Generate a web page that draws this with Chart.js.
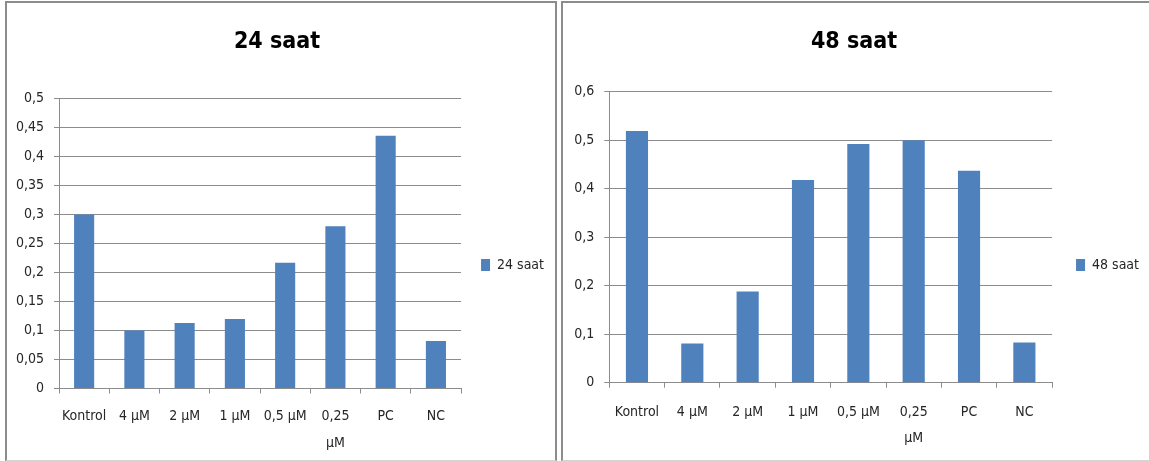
<!DOCTYPE html>
<html>
<head>
<meta charset="utf-8">
<script src="https://cdn.jsdelivr.net/npm/chart.js@4.4.1/dist/chart.umd.min.js"></script>
<style>
  html, body { margin: 0; padding: 0; background: #ffffff; }
  body { width: 1149px; height: 461px; position: relative; overflow: hidden; }
  .frame { position: absolute; border: 2px solid #8c8c8c; border-bottom: 1px solid #d4d4d4; box-sizing: border-box; }
  canvas { position: absolute; top: 0; }
</style>
</head>
<body>
<div class="frame" style="left:5px; top:1px; width:552px; height:460px;"></div>
<div class="frame" style="left:561px; top:1px; width:600px; height:460px;"></div>
<canvas id="c24" width="557" height="461" style="left:0px;"></canvas>
<canvas id="c48" width="590" height="461" style="left:559px;"></canvas>
<script>
// Treatment groups (shared by both panels)
const categories = ['Kontrol', '4 µM', '2 µM', '1 µM', '0,5 µM', ['0,25', 'µM'], 'PC', 'NC'];

// Measured values per time point
const values24 = [0.300, 0.100, 0.113, 0.120, 0.217, 0.280, 0.436, 0.082];
const values48 = [0.519, 0.081, 0.188, 0.418, 0.492, 0.500, 0.437, 0.083];

// Y-axis tick labels (decimal comma)
const ticks24 = ['0', '0,05', '0,1', '0,15', '0,2', '0,25', '0,3', '0,35', '0,4', '0,45', '0,5'];
const ticks48 = ['0', '0,1', '0,2', '0,3', '0,4', '0,5', '0,6'];

const BAR = '#4f81bd';
const GRID = '#8c8c8c';
const TEXT = '#262626';
const FONT = "'DejaVu Sans Condensed', Roboto, sans-serif";

function makeChart(id, cfg) {
  return new Chart(document.getElementById(id), {
    type: 'bar',
    data: {
      labels: categories,
      datasets: [{
        label: cfg.name,
        data: cfg.values,
        backgroundColor: BAR,
        borderWidth: 0,
        barPercentage: 0.4,
        categoryPercentage: 1.0
      }]
    },
    options: {
      responsive: false,
      animation: false,
      devicePixelRatio: 1,
      layout: { padding: { left: 0, top: 0, bottom: 0, right: cfg.padRight } },
      plugins: {
        tooltip: { enabled: false },
        title: {
          display: true,
          text: cfg.name,
          color: '#000000',
          font: { family: FONT, size: 23, weight: 'bold', lineHeight: 1.2 },
          padding: { top: cfg.titleTop, bottom: cfg.titleBottom }
        },
        legend: {
          display: true,
          position: 'right',
          align: 'center',
          title: { display: true, text: '', padding: { top: cfg.legendShift, bottom: 0 } },
          labels: {
            color: TEXT,
            font: { family: FONT, size: 14 },
            boxWidth: 9,
            boxHeight: 12,
            padding: cfg.legendPad
          }
        }
      },
      scales: {
        x: {
          offset: true,
          grid: { display: true, drawOnChartArea: false, drawTicks: true, tickLength: 5, color: GRID, offset: true },
          border: { display: true, color: GRID, width: 1 },
          ticks: {
            color: TEXT,
            font: { family: FONT, size: 14, lineHeight: 1.9 },
            padding: cfg.xPad,
            maxRotation: 0,
            autoSkip: false
          },
          afterFit: s => { s.height = cfg.xHeight; }
        },
        y: {
          min: 0,
          max: cfg.max,
          grid: { color: GRID, lineWidth: 1, drawTicks: true, tickLength: 5 },
          border: { display: true, color: GRID, width: 1 },
          ticks: {
            stepSize: cfg.step,
            color: TEXT,
            font: { family: FONT, size: 14 },
            padding: 10,
            callback: (v, i) => cfg.tickLabels[i]
          },
          afterFit: s => { s.width = cfg.yWidth; }
        }
      }
    }
  });
}

makeChart('c24', {
  name: '24 saat', values: values24, tickLabels: ticks24, max: 0.5, step: 0.05,
  yWidth: 59, xHeight: 72.5, xPad: 10,
  titleTop: 28, titleBottom: 43.1,
  padRight: 3, legendPad: 20, legendShift: 54.6
});

makeChart('c48', {
  name: '48 saat', values: values48, tickLabels: ticks48, max: 0.6, step: 0.1,
  yWidth: 50.3, xHeight: 78.3, xPad: 11,
  titleTop: 28, titleBottom: 36.1,
  padRight: 0, legendPad: 24, legendShift: 54.6
});
</script>
</body>
</html>
